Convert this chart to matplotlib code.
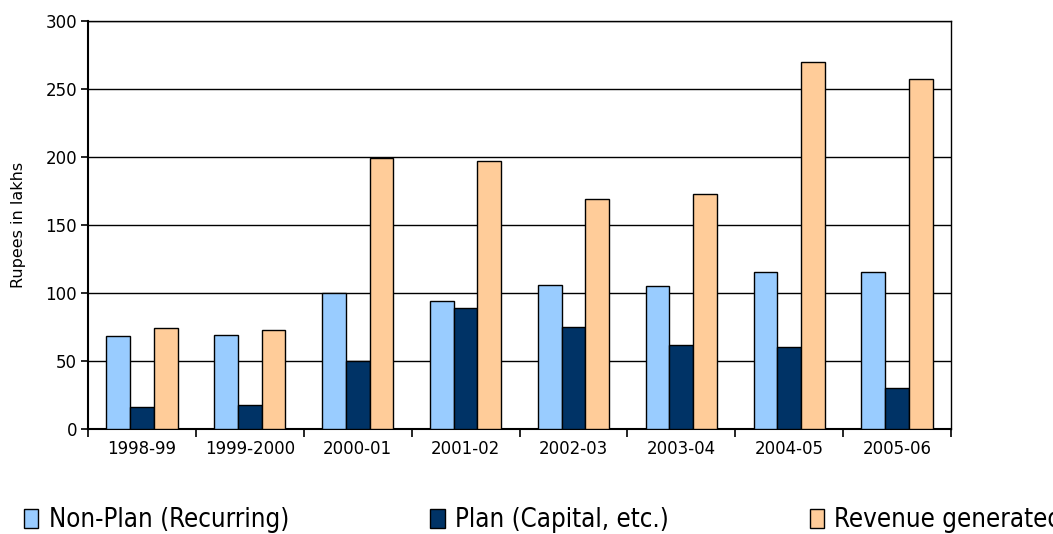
import matplotlib
matplotlib.use("Agg")
import matplotlib.pyplot as plt
from matplotlib import font_manager
import numpy as np

years = ["1998-99", "1999-2000", "2000-01", "2001-02", "2002-03", "2003-04", "2004-05", "2005-06"]
non_plan = [68, 69, 100, 94, 106, 105, 115, 115]
plan = [16, 18, 50, 89, 75, 62, 60, 30]
revenue = [74, 73, 199, 197, 169, 173, 270, 257]

series_names = ["Non-Plan (Recurring)", "Plan (Capital, etc.)", "Revenue generated"]
colors = ["#99CCFF", "#003366", "#FFCC99"]

plt.rcParams["font.family"] = ["DejaVu Sans"]

fig = plt.figure(figsize=(10.53, 5.34), dpi=100)
ax = fig.add_axes([88 / 1053, 1 - 429 / 534, (951 - 88) / 1053, (429 - 20.7) / 534])

x = np.arange(len(years))
w = 0.22
handles = []
for i, (vals, name, col) in enumerate(zip([non_plan, plan, revenue], series_names, colors)):
    b = ax.bar(x + (i - 1) * w, vals, width=w, color=col, edgecolor="black",
               linewidth=1.0, label=name, zorder=3)
    handles.append(b)

ax.set_xlim(-0.5, len(years) - 0.5)
ax.set_ylim(0, 300)
ax.set_yticks(np.arange(0, 301, 50))
ax.yaxis.grid(True, color="black", linewidth=1.0, zorder=0)
ax.set_axisbelow(True)

# category boundaries as major ticks, labels at the centres
ax.set_xticks(np.arange(-0.5, len(years), 1.0))
ax.set_xticklabels([])
ax.set_xticks(x, minor=True)
ax.set_xticklabels(years, minor=True, fontsize=12)
ax.tick_params(axis="x", which="major", length=6, width=1.2, direction="out")
ax.tick_params(axis="x", which="minor", length=0, pad=8)
ax.tick_params(axis="y", length=5, width=1.2, labelsize=12, pad=3)

for s in ax.spines.values():
    s.set_linewidth(1.5)
    s.set_color("black")
ax.spines["top"].set_linewidth(1.0)
ax.spines["right"].set_linewidth(1.0)

ax.set_ylabel("Rupees in lakhs", fontsize=11.5, labelpad=14)

legend_font = font_manager.FontProperties(family="DejaVu Sans", stretch="condensed", size=18.5)
fig.legend(handles=handles, labels=series_names, loc="upper left",
           bbox_to_anchor=(14 / 1053, 1 - 497 / 534), ncol=3, frameon=False,
           prop=legend_font, handlelength=0.55, handleheight=0.8, handletextpad=0.4,
           columnspacing=5.5, borderaxespad=0)

fig.savefig("out.png", dpi=100)
